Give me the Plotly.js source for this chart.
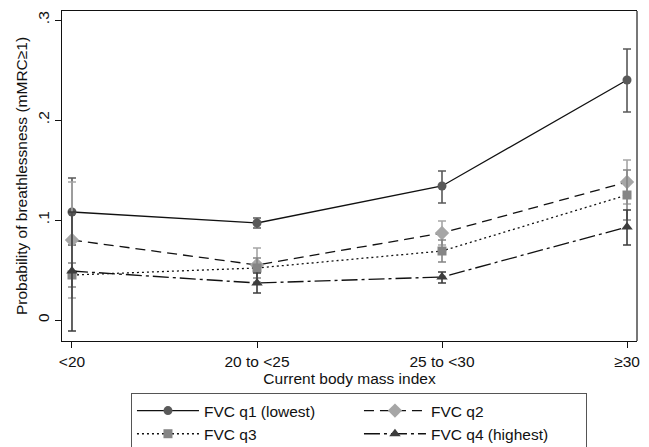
<!DOCTYPE html>
<html>
<head>
<meta charset="utf-8">
<script src="https://cdn.plot.ly/plotly-3.0.1.min.js"></script>
<style>html,body{margin:0;padding:0;background:#fff;}#chart{width:649px;height:447px;}</style>
</head>
<body>
<div id="chart"></div>
<script>
const categories = ["<20", "20 to <25", "25 to <30", "≥30"];
const seriesNames = ["FVC q1 (lowest)", "FVC q2", "FVC q3", "FVC q4 (highest)"];
const q1 = [0.108, 0.097, 0.134, 0.240];
const q1Low = [0.075, 0.092, 0.117, 0.208];
const q1High = [0.142, 0.102, 0.149, 0.271];
const q2 = [0.080, 0.055, 0.087, 0.138];
const q2Low = [0.022, 0.038, 0.075, 0.116];
const q2High = [0.138, 0.072, 0.099, 0.160];
const q3 = [0.045, 0.052, 0.069, 0.125];
const q3Low = [0.033, 0.042, 0.058, 0.100];
const q3High = [0.057, 0.062, 0.080, 0.150];
const q4 = [0.049, 0.037, 0.043, 0.093];
const q4Low = [-0.011, 0.027, 0.037, 0.075];
const q4High = [0.108, 0.047, 0.048, 0.110];
const yTickVals = [0, 0.1, 0.2, 0.3];
const yTickText = ["0", ".1", ".2", ".3"];

function mk(name, y, lo, hi, mcol, sym, msize, dash) {
  return {
    type: "scatter", mode: "lines+markers", name: name,
    x: categories, y: y,
    line: {color: "#111", width: 1.3, dash: dash},
    marker: {color: mcol, symbol: sym, size: msize},
    error_y: {type: "data", symmetric: false,
      array: hi.map((h, i) => h - y[i]),
      arrayminus: y.map((v, i) => v - lo[i]),
      color: mcol, thickness: 1.6, width: 4}
  };
}
const data = [
  mk(seriesNames[0], q1, q1Low, q1High, "#595959", "circle", 9, "solid"),
  mk(seriesNames[1], q2, q2Low, q2High, "#a6a6a6", "diamond", 11, "10px,6px"),
  mk(seriesNames[2], q3, q3Low, q3High, "#858585", "square", 9, "2px,3px"),
  mk(seriesNames[3], q4, q4Low, q4High, "#3d3d3d", "triangle-up", 10, "16px,4px,3px,4px")
];
const font = {family: "Liberation Sans, Arial, sans-serif", size: 15.5, color: "#111"};
const layout = {
  width: 649, height: 447,
  margin: {l: 62, r: 12, t: 11, b: 106},
  paper_bgcolor: "#fff", plot_bgcolor: "#fff",
  font: font,
  showlegend: true,
  xaxis: {
    type: "category", range: [-0.054, 3.054],
    showgrid: false, zeroline: false,
    showline: true, linecolor: "#111", linewidth: 1.3, mirror: true,
    ticks: "outside", ticklen: 6, tickcolor: "#111",
    tickfont: font, automargin: false,
    title: {text: "Current body mass index", font: font, standoff: 0}
  },
  yaxis: {
    range: [-0.021, 0.309],
    tickvals: yTickVals, ticktext: yTickText, tickangle: -90,
    showgrid: false, zeroline: false,
    showline: true, linecolor: "#111", linewidth: 1.3,
    ticks: "outside", ticklen: 6, tickcolor: "#111",
    tickfont: font, automargin: false,
    title: {text: "Probability of breathlessness (mMRC≥1)", font: font, standoff: 3}
  },
  shapes: [{type: "line", xref: "paper", yref: "paper", x0: 1, x1: 1, y0: 0, y1: 1,
    line: {color: "#777", width: 2}}],
  legend: {
    orientation: "h", xref: "container", yref: "container",
    x: 0.2018, y: 0.1208, xanchor: "left", yanchor: "top",
    bordercolor: "#555", borderwidth: 1, bgcolor: "#fff",
    entrywidth: 150, entrywidthmode: "pixels", itemwidth: 62,
    font: font, traceorder: "normal"
  }
};
Plotly.newPlot("chart", data, layout, {displayModeBar: false, staticPlot: true});
</script>
</body>
</html>
